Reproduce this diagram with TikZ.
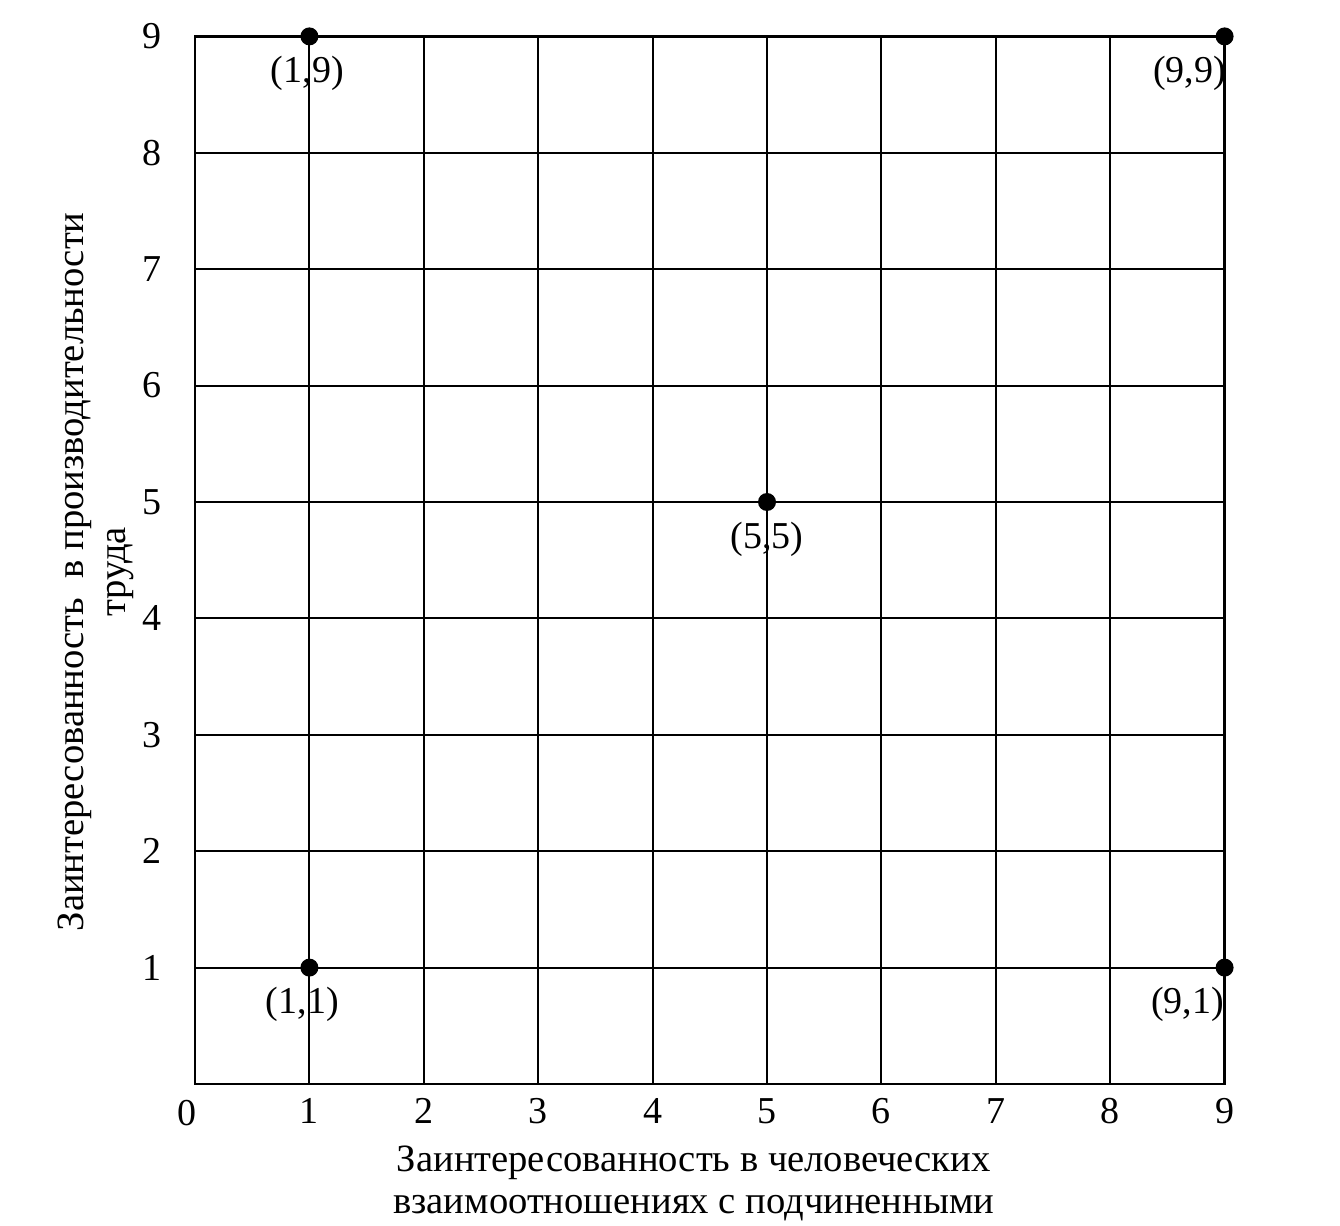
\documentclass[tikz,border=0pt]{standalone}
\usepackage{fontspec}
\setmainfont{Liberation Serif}
\usetikzlibrary{positioning}

\begin{document}
\begin{tikzpicture}[
  x=57.2pt,y=58.2pt,
  gridline/.style={draw=black,line width=1pt},
  frame/.style={draw=black,line width=1.3pt},
  dot/.style={circle,fill=black,inner sep=0pt,minimum size=9pt},
  ptlabel/.style={font=\fontsize{19}{22}\selectfont,inner sep=1pt},
  ticklabel/.style={font=\fontsize{19}{22}\selectfont,inner sep=0pt},
  axislabel/.style={font=\fontsize{19.3}{21}\selectfont,align=center,inner sep=0pt}
]
\useasboundingbox (-1.7045,-1.2113) rectangle (10.0087,9.3127);
% grid
\foreach \i in {1,...,8} {
  \draw[gridline] (\i,0) -- (\i,9);
  \draw[gridline] (0,\i) -- (9,\i);
}
\draw[frame] (0,0) rectangle (9,9);
% tick numbers
\node[ticklabel] (x0) at (-0.07,-0.25) {0};
\foreach \i in {1,...,9} {
  \node[ticklabel] (x\i) at (\i,-0.23) {\i};
  \node[ticklabel] (y\i) at (-0.38,\i) {\i};
}
% points
\node[dot] (p19) at (1,9) {};
\node[dot] (p99) at (9,9) {};
\node[dot] (p55) at (5,5) {};
\node[dot] (p11) at (1,1) {};
\node[dot] (p91) at (9,1) {};
\node[ptlabel,below=4pt of p19,xshift=-1pt] (l19) {(1,9)};
\node[ptlabel,below=4pt of p99,xshift=-17.5pt] (l99) {(9,9)};
\node[ptlabel,below=4pt of p55] (l55) {(5,5)};
\node[ptlabel,below=4pt of p11,xshift=-3.5pt] (l11) {(1,1)};
\node[ptlabel,below=4pt of p91,xshift=-18.5pt] (l91) {(9,1)};
% axis titles
\node[axislabel] (xtitle) at (4.36,-0.85) {Заинтересованность в человеческих\\взаимоотношениях с подчиненными};
\node[axislabel,rotate=90] (ytitle) at (-0.865,4.40) {Заинтересованность\ \ в производительности\\труда};
\end{tikzpicture}
\end{document}
